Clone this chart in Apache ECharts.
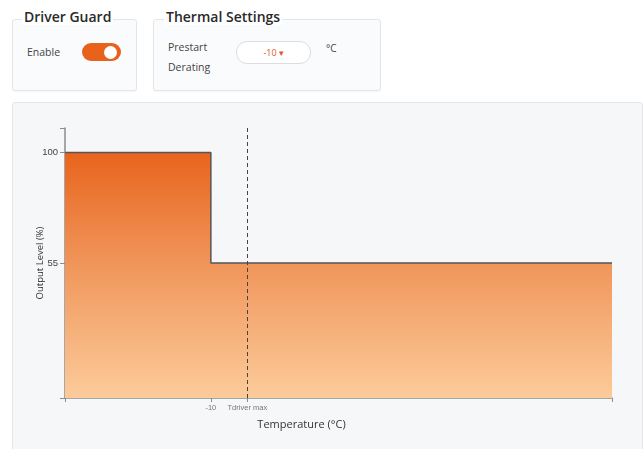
<!DOCTYPE html>
<html>
<head>
<meta charset="utf-8">
<script src="https://cdn.jsdelivr.net/npm/echarts@6/dist/echarts.min.js"></script>
<style>
  html, body { margin: 0; padding: 0; background: #ffffff; width: 644px; height: 449px; overflow: hidden; font-family: "Open Sans", "Noto Sans", "DejaVu Sans", sans-serif; }
  .card { position: absolute; border: 1px solid #e3e5e8; border-radius: 3px; background: #fafbfc; box-shadow: 0 1px 1px rgba(0,0,0,0.04); }
  .title { position: absolute; font-weight: 600; font-size: 14px; color: #2a2a2a; background: #ffffff; padding: 0 2px; line-height: 16px; }
  .lbl { position: absolute; font-size: 10.5px; color: #444; line-height: 20px; }
  #chartPanel { position: absolute; left: 12px; top: 102px; width: 629px; height: 350px; background: #f6f7f9; border: 1px solid #e4e6ea; border-radius: 3px; }
  #chart { position: absolute; left: 12px; top: 102px; width: 630px; height: 347px; }
</style>
</head>
<body>
<div class="card" style="left:12px; top:19px; width:123px; height:70px;"></div>
<div class="title" style="left:22px; top:9px;">Driver Guard</div>
<div class="lbl" style="left:27px; top:42px;">Enable</div>
<div style="position:absolute; left:82px; top:43px; width:39px; height:18px; border-radius:9px; background:#e8621b;"></div>
<div style="position:absolute; left:104px; top:46px; width:13px; height:13px; border-radius:7px; background:#ffffff;"></div>

<div class="card" style="left:153px; top:19px; width:226px; height:70px;"></div>
<div class="title" style="left:164px; top:9px;">Thermal Settings</div>
<div class="lbl" style="left:168px; top:37px;">Prestart</div>
<div class="lbl" style="left:168px; top:57px;">Derating</div>
<div style="position:absolute; left:236px; top:41px; width:73px; height:21px; border-radius:11px; background:#ffffff; border:1px solid #dcdde0; text-align:center; font-size:9px; line-height:21px; color:#e8532a;">-10 &#9662;</div>
<div class="lbl" style="left:326px; top:38px; font-size:10px;">°C</div>

<div id="chartPanel"></div>
<div id="chart"></div>
<script>
var tempPoints = [-50, -10, -10, 100];
var levelPoints = [100, 100, 55, 55];
var xTickValues = [-50, -10, 0, 100];
var xLabelValues = [-10, 0];
var xLabelTexts = {"-10": "-10", "0": "Tdriver max"};
var yTickValues = [0, 55, 100, 110];
var yLabelValues = [55, 100];
var tdriverMax = 0;

var chart = echarts.init(document.getElementById('chart'), null, {renderer: 'canvas'});
var lineData = tempPoints.map(function (t, i) { return [t, levelPoints[i]]; });
chart.setOption({
  animation: false,
  backgroundColor: 'transparent',
  grid: { left: 53, right: 30, top: 26, bottom: 51 },
  xAxis: {
    type: 'value', min: -50, max: 100,
    splitLine: { show: false },
    axisLine: { onZero: false, lineStyle: { color: '#8c8c8c', width: 1.5 } },
    axisTick: { show: true, length: 4, customValues: xTickValues, lineStyle: { color: '#8c8c8c' } },
    axisLabel: {
      customValues: xLabelValues, fontSize: 7.5, color: '#777', margin: 6,
      formatter: function (v) { return xLabelTexts[String(v)]; }
    },
    name: 'Temperature (°C)', nameLocation: 'middle', nameGap: 21, nameMoveOverlap: false,
    nameTextStyle: { fontSize: 11, color: '#333', padding: [0, 74, 0, 0], fontFamily: 'Open Sans' }
  },
  yAxis: {
    type: 'value', min: 0, max: 110,
    splitLine: { show: false },
    axisLine: { show: true, onZero: false, lineStyle: { color: '#8c8c8c', width: 1.5 } },
    axisTick: { show: true, length: 5, customValues: yTickValues, lineStyle: { color: '#8c8c8c' } },
    axisLabel: { customValues: yLabelValues, fontSize: 9.5, color: '#444', margin: 7 },
    name: 'Output Level (%)', nameLocation: 'middle', nameGap: 20, nameRotate: 90, nameMoveOverlap: false,
    nameTextStyle: { fontSize: 9.5, color: '#333', fontFamily: 'Open Sans' }
  },
  series: [{
    type: 'line',
    data: lineData,
    symbol: 'none',
    lineStyle: { color: '#555555', width: 1.5 },
    areaStyle: {
      opacity: 1,
      color: new echarts.graphic.LinearGradient(0, 0, 0, 1, [
        { offset: 0, color: '#e8641d' },
        { offset: 0.45, color: '#f0955a' },
        { offset: 1, color: '#fccb9a' }
      ])
    },
    markLine: {
      silent: true, symbol: 'none',
      label: { show: false },
      lineStyle: { color: '#444', type: [4, 3], width: 1 },
      data: [{ xAxis: tdriverMax }]
    },
    z: 2
  }]
});
</script>
</body>
</html>
